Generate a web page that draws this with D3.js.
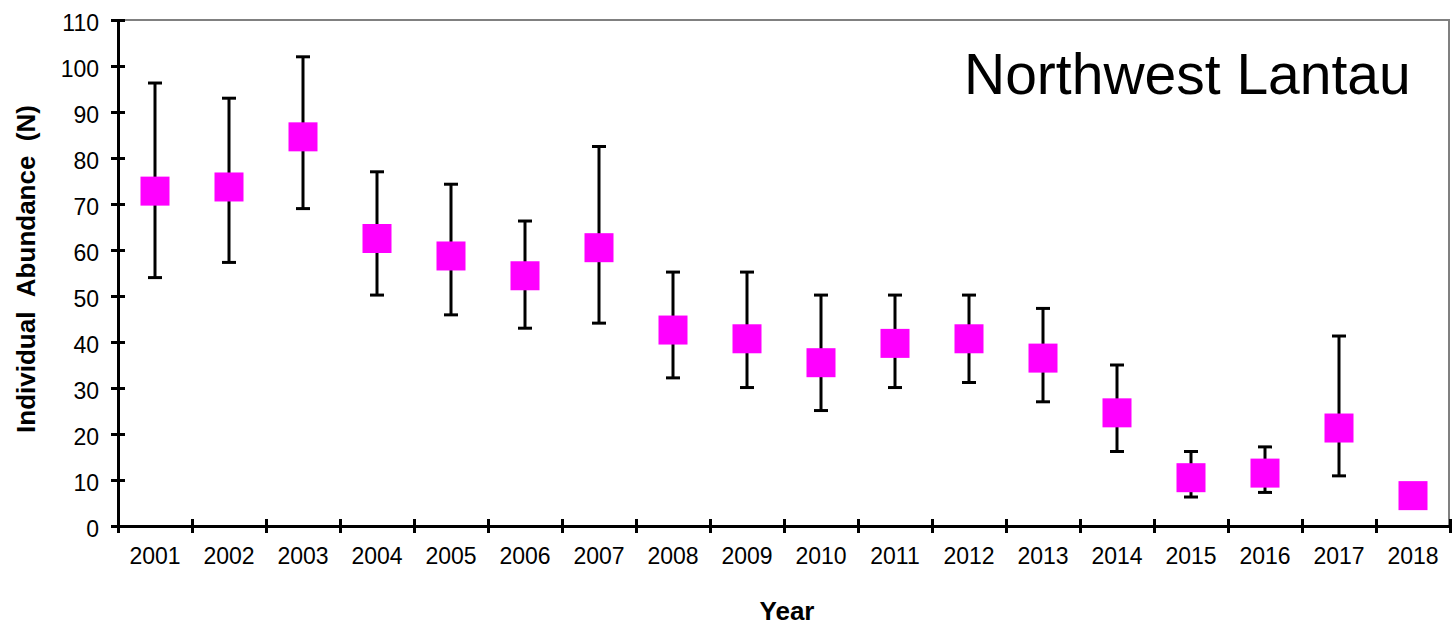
<!DOCTYPE html>
<html>
<head>
<meta charset="utf-8">
<script src="https://cdn.jsdelivr.net/npm/d3@7/dist/d3.min.js"></script>
<style>
  html, body { margin: 0; padding: 0; background: #fff; }
  svg { display: block; font-family: Arial, "Liberation Sans", sans-serif; }
</style>
</head>
<body>
<svg id="chart" width="1452" height="627"></svg>
<script>
const years = ["2001","2002","2003","2004","2005","2006","2007","2008","2009","2010","2011","2012","2013","2014","2015","2016","2017","2018"];
const meanValues = [72.8, 73.7, 84.6, 62.5, 58.7, 54.4, 60.5, 42.6, 40.7, 35.5, 39.7, 40.7, 36.5, 24.6, 10.5, 11.5, 21.3, 6.6];
const upperValues = [96.3, 93.0, 102.0, 77.0, 74.3, 66.3, 82.5, 55.2, 55.2, 50.2, 50.2, 50.2, 47.3, 35.0, 16.2, 17.2, 41.3, null];
const lowerValues = [54.0, 57.3, 69.0, 50.2, 45.9, 43.0, 44.1, 32.2, 30.1, 25.1, 30.1, 31.2, 27.0, 16.2, 6.3, 7.3, 10.9, null];
const yTicks = [0, 10, 20, 30, 40, 50, 60, 70, 80, 90, 100, 110];
const titleText = "Northwest Lantau";
const xTitle = "Year";
const yTitle = "Individual\u00a0\u00a0Abundance\u00a0\u00a0(N)";

const svg = d3.select("#chart");
const mLeft = 118, mRight = 1450, mTop = 20, mBottom = 526;

const x = d3.scaleBand().domain(years).range([mLeft, mRight]).padding(0);
const xEdge = d3.scaleLinear().domain([0, years.length]).range([mLeft, mRight]);
const y = d3.scaleLinear().domain([0, 110]).range([mBottom, mTop]);

// frame (gray top & right)
svg.append("line").attr("x1", mLeft).attr("x2", mRight).attr("y1", mTop).attr("y2", mTop)
  .attr("stroke", "#808080").attr("stroke-width", 2);
svg.append("line").attr("x1", mRight - 1).attr("x2", mRight - 1).attr("y1", mTop).attr("y2", mBottom)
  .attr("stroke", "#808080").attr("stroke-width", 2);

// y axis
const yAxis = svg.append("g").attr("transform", `translate(${mLeft},0)`)
  .call(d3.axisLeft(y).tickValues(yTicks).tickSize(6).tickPadding(13));
yAxis.select(".domain").attr("stroke", "#000").attr("stroke-width", 3);
yAxis.selectAll(".tick line").attr("x1", 7).attr("x2", -7).attr("stroke", "#000").attr("stroke-width", 3);
yAxis.selectAll(".tick text").attr("font-size", 23).attr("fill", "#000").attr("dy", "0.45em")
  .attr("font-family", "Arial, 'Liberation Sans', sans-serif");

// x axis: tick marks at category edges
const xTickAxis = svg.append("g").attr("transform", `translate(0,${mBottom})`)
  .call(d3.axisBottom(xEdge).tickValues(d3.range(0, years.length + 1)).tickFormat("").tickSize(6));
xTickAxis.select(".domain").attr("stroke", "#000").attr("stroke-width", 3);
xTickAxis.selectAll(".tick line").attr("y1", -7).attr("y2", 7).attr("stroke", "#000").attr("stroke-width", 3);

// x labels
const xLabAxis = svg.append("g").attr("transform", `translate(0,${mBottom})`)
  .call(d3.axisBottom(x).tickSize(0).tickPadding(22));
xLabAxis.select(".domain").remove();
xLabAxis.selectAll(".tick text").attr("font-size", 23).attr("fill", "#000")
  .attr("font-family", "Arial, 'Liberation Sans', sans-serif");

// error bars
const data = years.map((yr, i) => ({ yr, m: meanValues[i], hi: upperValues[i], lo: lowerValues[i] }));
const eb = svg.append("g").attr("stroke", "#000").attr("stroke-width", 3);
data.filter(d => d.hi != null).forEach(d => {
  const cx = x(d.yr) + x.bandwidth() / 2;
  eb.append("line").attr("x1", cx).attr("x2", cx).attr("y1", y(d.hi)).attr("y2", y(d.lo));
  eb.append("line").attr("x1", cx - 7).attr("x2", cx + 7).attr("y1", y(d.hi)).attr("y2", y(d.hi));
  eb.append("line").attr("x1", cx - 7).attr("x2", cx + 7).attr("y1", y(d.lo)).attr("y2", y(d.lo));
});

// markers
const ms = 29;
svg.append("g").selectAll("rect").data(data).join("rect")
  .attr("x", d => x(d.yr) + x.bandwidth() / 2 - ms / 2)
  .attr("y", d => y(d.m) - ms / 2)
  .attr("width", ms).attr("height", ms)
  .attr("fill", "#ff00ff");

// title
svg.append("text").attr("x", 964).attr("y", 94).attr("font-size", 57).attr("fill", "#000")
  .text(titleText);

// axis titles
svg.append("text").attr("x", 787).attr("y", 620).attr("text-anchor", "middle")
  .attr("font-size", 26).attr("font-weight", "bold").attr("fill", "#000").text(xTitle);
svg.append("text").attr("transform", "translate(35,269) rotate(-90)").attr("text-anchor", "middle")
  .attr("font-size", 26).attr("font-weight", "bold").attr("fill", "#000").text(yTitle);
</script>
</body>
</html>
